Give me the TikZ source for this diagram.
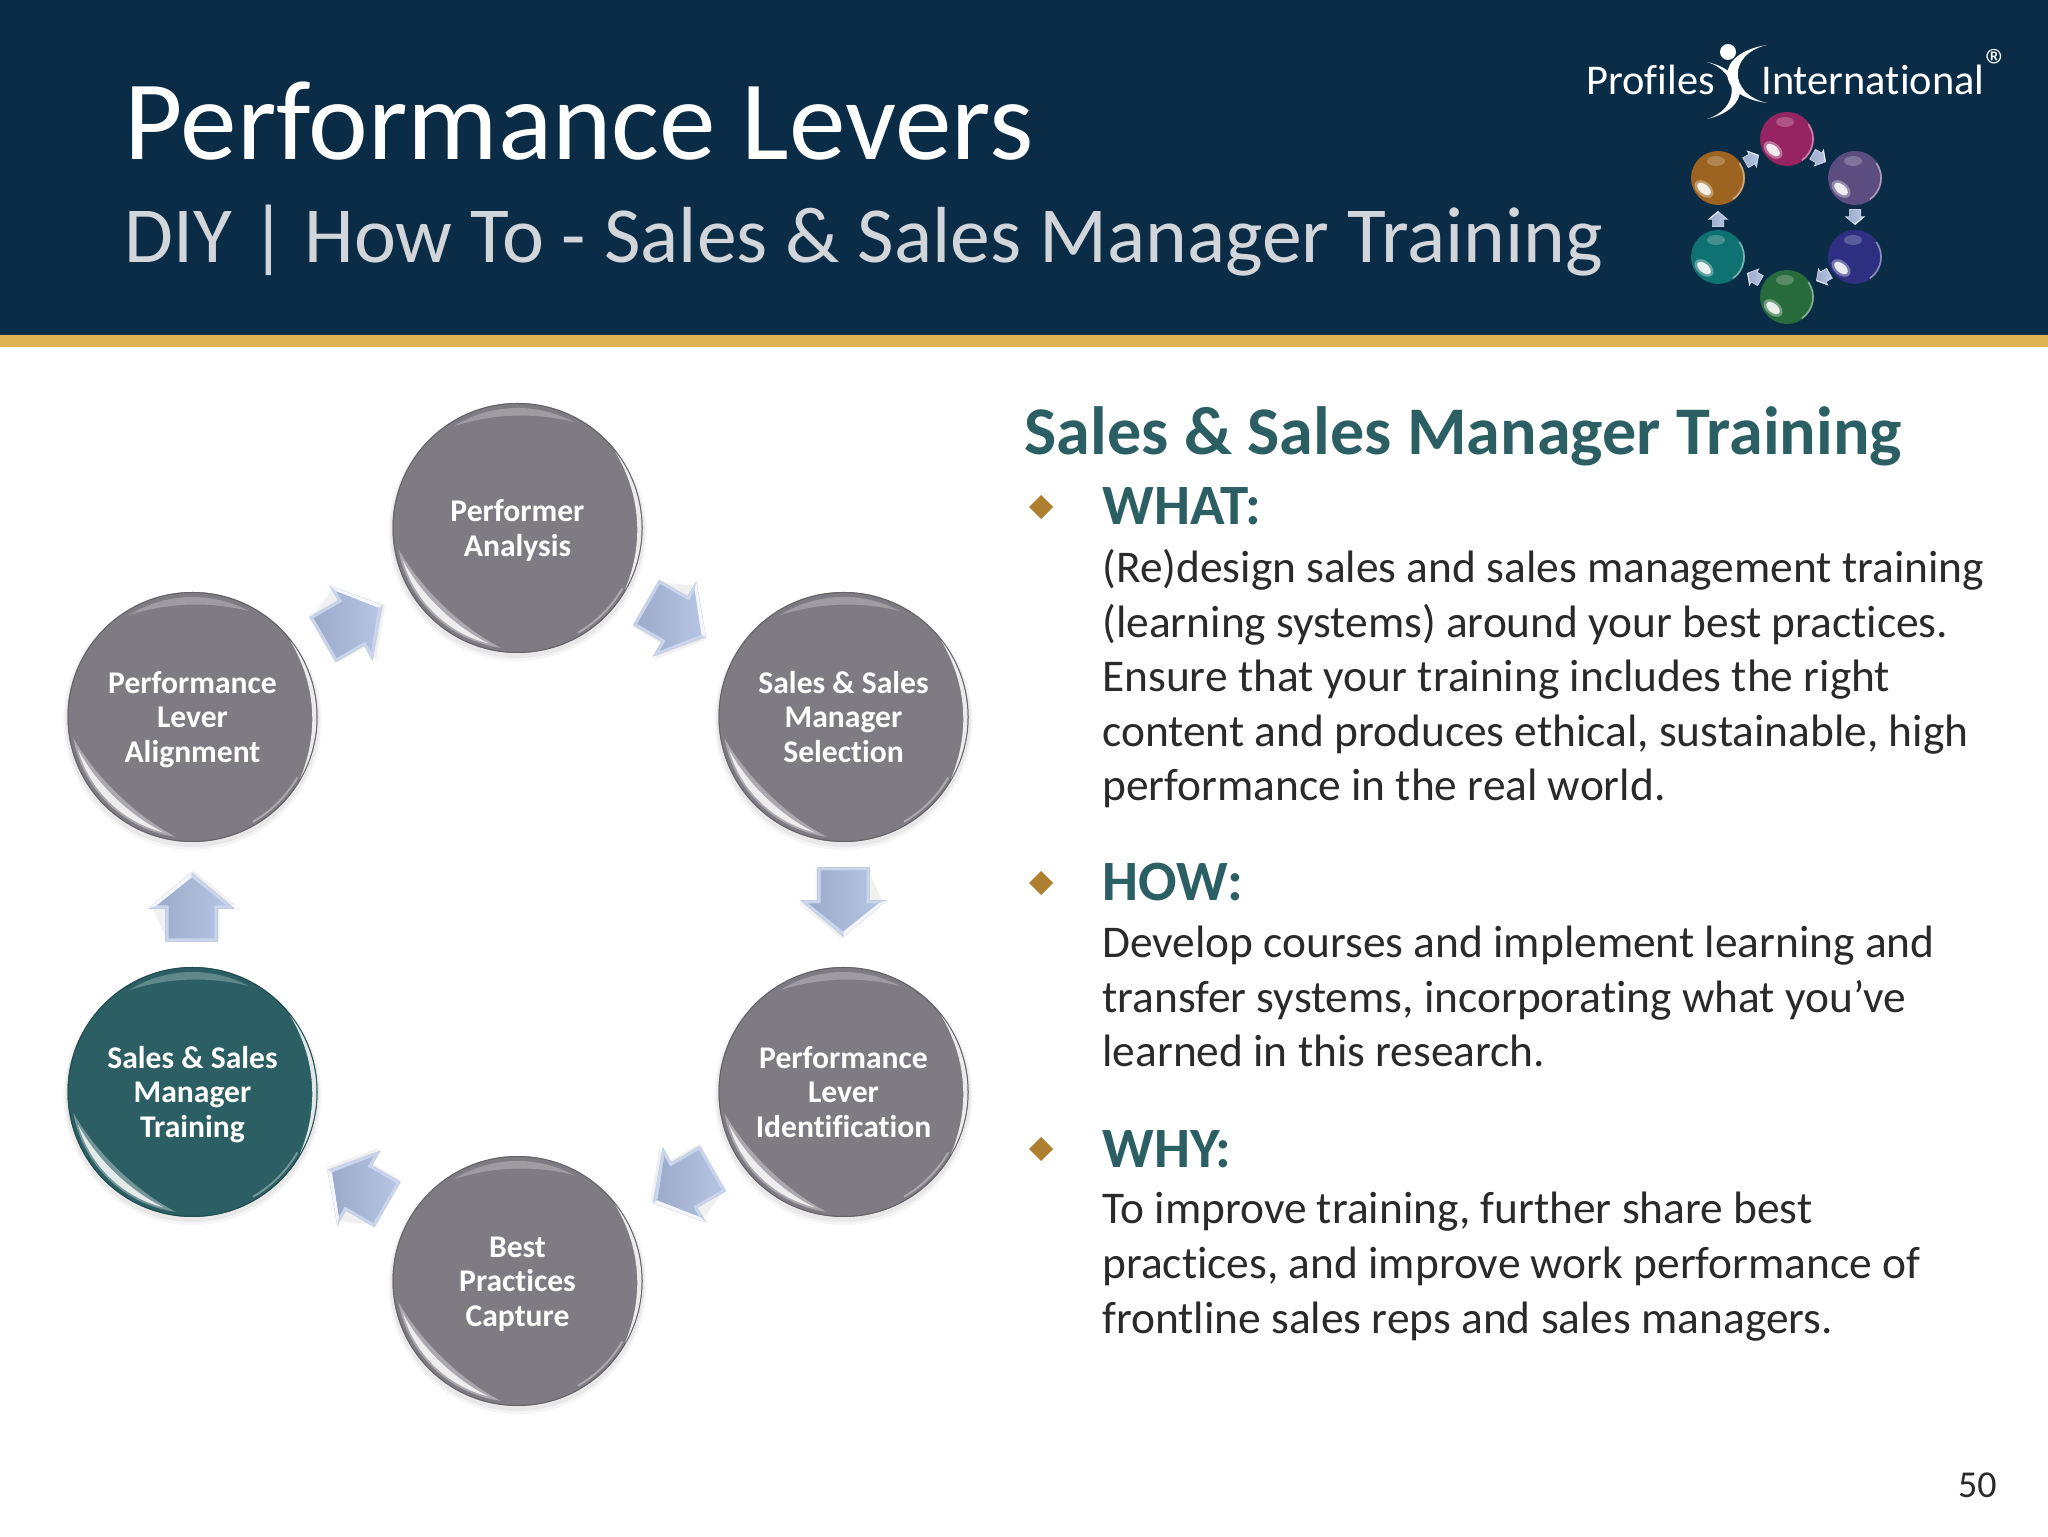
\documentclass[tikz,border=0pt]{standalone}
\usepackage{fontspec}
\setmainfont[RawFeature={-liga;-clig}]{Carlito}
\usetikzlibrary{calc}
\definecolor{navy}{HTML}{0A2C46}
\definecolor{goldband}{HTML}{DFB253}
\definecolor{leadgray}{HTML}{7E7C82}
\definecolor{leadteal}{HTML}{2B5F63}
\definecolor{headteal}{HTML}{2B5F63}
\definecolor{bodyink}{HTML}{2A2A2A}
\definecolor{subgray}{HTML}{D2D6DA}
\definecolor{bulletgold}{HTML}{AE7F2F}
\definecolor{arrowtail}{HTML}{9DABCA}
\definecolor{arrowtip}{HTML}{B4C4E2}
\definecolor{arrowedge}{HTML}{C9D5EC}
\definecolor{bmagenta}{HTML}{962463}
\definecolor{bpurple}{HTML}{5B4D80}
\definecolor{bblue}{HTML}{2E2F80}
\definecolor{bgreen}{HTML}{276B3C}
\definecolor{bteal}{HTML}{0F7272}
\definecolor{borange}{HTML}{9C6420}
\tikzset{
  x=0.5pt,y=0.5pt,
  lever/.style={circle,minimum size=125pt,inner sep=0pt,align=center,text=white,
    font=\fontsize{15.8}{17.3}\selectfont\bfseries},
  titletext/.style={anchor=base west,inner sep=0pt,text=white,font=\fontsize{56.6}{60}\selectfont},
  subtext/.style={anchor=base west,inner sep=0pt,text=subgray,font=\fontsize{39.75}{44}\selectfont},
  headtext/.style={anchor=base west,inner sep=0pt,text=headteal,font=\fontsize{34.1}{36}\selectfont\bfseries},
  kicker/.style={anchor=base west,inner sep=0pt,text=headteal,font=\fontsize{28.5}{30}\selectfont\bfseries},
  bodytext/.style={anchor=base west,inner sep=0pt,align=left,text=bodyink,font=\fontsize{22.7}{27.3}\selectfont},
  logotext/.style={anchor=base west,inner sep=0pt,text=white,font=\fontsize{21.2}{24}\selectfont},
  blockarrow/.pic={
    \fill[black,opacity=.06] (-33,-28) -- (2,-28) -- (2,-45) -- (37,-2) -- (2,40) -- (-33,24) -- cycle;
    \fill[arrowedge,draw=arrowtail!60,line width=.3pt,line join=miter]
      (-34,-26) -- (-1,-26) -- (-1,-43) -- (35,0) -- (-1,43) -- (-1,26) -- (-34,26) -- cycle;
    \shade[left color=arrowtail,right color=arrowtip]
      (-31,-23) -- (2,-23) -- (2,-35) -- (30,0) -- (2,35) -- (2,23) -- (-31,23) -- cycle;
    \fill[white,opacity=.8] (-1,43) -- (35,0) -- (30,0) -- (2,35) -- cycle;
  },
}
\newcommand{\leverball}[5]{%
  \fill[black,opacity=.04] (#2,#3-4) circle[radius=129];
  \fill[black,opacity=.05] (#2,#3-3) circle[radius=127];
  \node[lever,fill=#4] (#1) at (#2,#3) {\rule{0pt}{16pt}#5\strut};
  \begin{scope}[shift={(#1.center)}]
    \draw[#4!80!black,line width=.5pt] (0,0) circle[radius=124.5];
    \fill[white,opacity=.35] (190:121) arc[start angle=190,end angle=262,radius=121]
      .. controls (240:114) and (212:114) .. (190:121);
    \fill[white,opacity=.8] (196:119) arc[start angle=196,end angle=256,radius=119]
      .. controls (237:117) and (215:117) .. (196:119);
    \fill[white,opacity=.25] (122:120) arc[start angle=122,end angle=62,radius=120]
      .. controls (82:117) and (102:117) .. (122:120);
    \fill[white,opacity=.85] (38:124) arc[start angle=38,end angle=-30,radius=124]
      .. controls (-7:127.7) and (15:127.7) .. (38:124);
    \draw[white,opacity=.35,line width=1pt] (-30:121) arc[start angle=-30,end angle=-60,radius=121];
  \end{scope}
}
\newcommand{\miniball}[4]{%
  \node[circle,minimum size=27pt,inner sep=0pt,fill=#4] (#1) at (#2,#3) {};
  \begin{scope}[shift={(#1.center)}]
    \draw[#4!55!white,line width=.8pt] (35:26) arc[start angle=35,end angle=-55,radius=26];
    \fill[white,opacity=.35,rotate around={-40:(-14,-11)}] (-14,-11) ellipse[x radius=11,y radius=7];
    \fill[white,opacity=.85,rotate around={-40:(-14,-11)}] (-14,-11) ellipse[x radius=8,y radius=4.5];
    \fill[white,opacity=.22] (-2,17) ellipse[x radius=9,y radius=5];
  \end{scope}
}
\begin{document}
\begin{tikzpicture}
\useasboundingbox (0,0) rectangle (2048,1536);
\fill[white] (0,0) rectangle (2048,1536);
% header
\fill[navy] (0,1201) rectangle (2048,1536);
\fill[goldband] (0,1189) rectangle (2048,1201);
\node[titletext] (title) at (124,1376) {Performance Levers};
\node[subtext] (subtitle) at (124,1273) {DIY | How To - Sales \& Sales Manager Training};
% logo
\node[logotext] (logoa) at (1586,1441) {Profiles};
\node[logotext] (logob) at (1761,1441) {International};
\node[anchor=center,inner sep=0pt,text=white,font=\fontsize{24}{26}\selectfont] (logoc) at (1998,1470) {®};
\fill[white] (1728,1484) circle[radius=8];
\fill[white] (1767,1491) .. controls (1714,1483) and (1714,1440) .. (1767,1433)
  .. controls (1728,1442) and (1728,1482) .. cycle;
\fill[white] (1707,1474) .. controls (1751,1464) and (1751,1427) .. (1707,1417)
  .. controls (1740,1427) and (1740,1464) .. cycle;
\miniball{ma}{1787}{1397}{bmagenta}
\miniball{mb}{1855}{1358}{bpurple}
\miniball{mc}{1855}{1279}{bblue}
\miniball{md}{1787}{1239}{bgreen}
\miniball{me}{1718}{1279}{bteal}
\miniball{mf}{1718}{1358}{borange}
\pic[rotate=30,scale=.22] (ar1) at (1752,1377) {blockarrow};
\pic[rotate=-30,scale=.22] (ar2) at (1819,1378) {blockarrow};
\pic[rotate=-90,scale=.22] (ar3) at (1855,1319) {blockarrow};
\pic[rotate=210,scale=.22] (ar4) at (1823,1259) {blockarrow};
\pic[rotate=150,scale=.22] (ar5) at (1754,1259) {blockarrow};
\pic[rotate=90,scale=.22] (ar6) at (1718,1317) {blockarrow};
% cycle
\leverball{P}{517.5}{1008}{leadgray}{Performer\\Analysis}
\leverball{S}{843.5}{819}{leadgray}{Sales \& Sales\\Manager\\Selection}
\leverball{I}{843.5}{444}{leadgray}{Performance\\Lever\\Identification}
\leverball{B}{517.5}{255}{leadgray}{Best\\Practices\\Capture}
\leverball{T}{192.5}{444}{leadteal}{Sales \& Sales\\Manager\\Training}
\leverball{L}{192.5}{819}{leadgray}{Performance\\Lever\\Alignment}
\pic[rotate=30] (a1) at ($(L)!.5!(P)+(-3,0)$) {blockarrow};
\pic[rotate=-30] (a2) at ($(P)!.5!(S)+(-5,3)$) {blockarrow};
\pic[rotate=-90] (a3) at ($(S)!.5!(I)+(0,3)$) {blockarrow};
\pic[rotate=210] (a4) at ($(I)!.5!(B)+(3,1)$) {blockarrow};
\pic[rotate=150] (a5) at ($(B)!.5!(T)+(3,-1)$) {blockarrow};
\pic[rotate=90] (a6) at ($(T)!.5!(L)+(-1,-3)$) {blockarrow};
% right column
\node[headtext] (head) at (1024,1081) {Sales \& Sales Manager Training};
\fill[bulletgold] (1041,1029+12) -- (1053,1029) -- (1041,1029-12) -- (1029,1029) -- cycle;
\node[kicker] (what) at (1102,1011) {WHAT:};
\node[bodytext] (whatb) at (1102,735) {(Re)design sales and sales management training\\(learning systems) around your best practices.\\Ensure that your training includes the right\\content and produces ethical, sustainable, high\\performance in the real world.};
\fill[bulletgold] (1041,653+12) -- (1053,653) -- (1041,653-12) -- (1029,653) -- cycle;
\node[kicker] (how) at (1102,635) {HOW:};
\node[bodytext] (howb) at (1102,469) {Develop courses and implement learning and\\transfer systems, incorporating what you’ve\\learned in this research.};
\fill[bulletgold] (1041,387+12) -- (1053,387) -- (1041,387-12) -- (1029,387) -- cycle;
\node[kicker] (why) at (1102,368) {WHY:};
\node[bodytext] (whyb) at (1102,203) {To improve training, further share best\\practices, and improve work performance of\\frontline sales reps and sales managers.};
\node[anchor=base east,inner sep=0pt,text=bodyink,font=\fontsize{19}{21}\selectfont] (pageno) at (1997,39) {50};
\end{tikzpicture}
\end{document}
